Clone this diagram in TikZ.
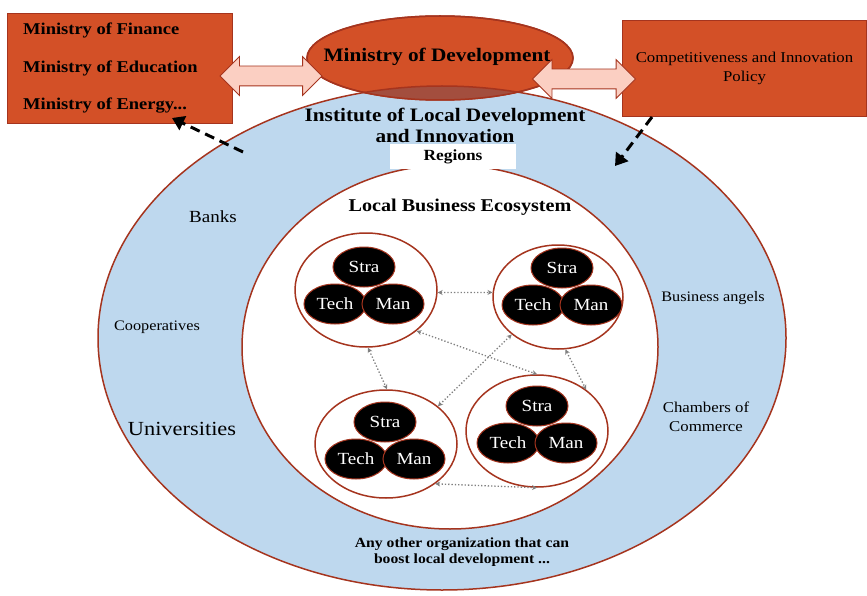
\documentclass[tikz,border=0pt]{standalone}
\usepackage{fontspec}
\setmainfont{Liberation Serif}[FakeStretch=1.12]
\usetikzlibrary{shapes.geometric,shapes.arrows,arrows.meta}
\definecolor{brick}{RGB}{211,80,39}
\definecolor{brickline}{RGB}{165,52,30}
\definecolor{ringblue}{RGB}{190,216,238}
\definecolor{overlap}{RGB}{163,78,62}
\definecolor{pinkarrow}{RGB}{251,207,194}
\newcommand{\tsize}[2]{\fontsize{#1}{#2}\selectfont}
\begin{document}
\begin{tikzpicture}[x=1pt,y=-1pt,
    ring/.style={ellipse,draw=brickline,line width=1.5pt,inner sep=0pt,outer sep=0pt},
    clus/.style={ellipse,draw=brickline,line width=1.5pt,fill=white,inner sep=0pt},
    blob/.style={ellipse,draw=brickline,line width=1pt,fill=black,text=white,minimum width=62pt,minimum height=40pt,inner sep=0pt,font=\tsize{17}{17}},
    box/.style={draw=brickline,fill=brick,line width=1pt,inner sep=0pt,anchor=north west},
    fat/.style={double arrow,draw=brickline,fill=pinkarrow,line width=0.8pt,inner xsep=0pt,inner ysep=9.5pt,minimum width=38pt,double arrow head extend=9.5pt},
    dots/.style={{Stealth[length=5pt,width=5pt]}-{Stealth[length=5pt,width=5pt]},gray,dotted,line width=1.3pt},
    bigdash/.style={-{Triangle[length=12pt,width=15pt]},line width=3pt,dash pattern=on 10pt off 6pt}]
    \useasboundingbox (0,0) rectangle (867,596);
    \node[ring,fill=ringblue,minimum width=688pt,minimum height=504pt] (inst) at (442,338) {};
    \node[ring,fill=white,minimum width=416pt,minimum height=364pt] (eco) at (450,347) {};
    \node[fill=white,minimum width=126pt,minimum height=25pt,inner sep=0pt,font=\bfseries\tsize{15.5}{15.5}] (reg) at (453,157) {Regions};
    \node[ring,fill=brick,minimum width=266pt,minimum height=84pt] (dev) at (440,58) {};
    \begin{scope}
        \clip (dev.center) ellipse [x radius=133pt,y radius=42pt];
        \fill[overlap] (inst.center) ellipse [x radius=344pt,y radius=252pt];
        \draw[brickline,line width=1.5pt] (inst.center) ellipse [x radius=344pt,y radius=252pt];
    \end{scope}
    \draw[brickline,line width=1.5pt] (dev.center) ellipse [x radius=133pt,y radius=42pt];
    \node[font=\bfseries\tsize{19}{19}] (devt) at (437,57) {Ministry of Development};
    \node[font=\bfseries\tsize{19}{21},align=center] (instt) at (445,125) {Institute of Local Development\\and Innovation};
    \node[font=\bfseries\tsize{18}{18}] (ecot) at (460,207) {Local Business Ecosystem};

    \node[box,minimum width=225pt,minimum height=110pt] (mins) at (7,13) {};
    \node[anchor=base west,inner sep=0pt,font=\bfseries\tsize{16.5}{16.5}] (fin) at (23,35) {Ministry of Finance};
    \node[anchor=base west,inner sep=0pt,font=\bfseries\tsize{16.5}{16.5}] (edu) at (23,73) {Ministry of Education};
    \node[anchor=base west,inner sep=0pt,font=\bfseries\tsize{16.5}{16.5}] (ene) at (23,110) {Ministry of Energy...};
    \node[box,minimum width=244pt,minimum height=96pt,align=center,font=\tsize{15}{19}] (cip) at (622,20) {Competitiveness and Innovation\\Policy};

    \node[fat,minimum height=102pt] (a1) at (271,76) {};
    \node[fat,minimum height=103pt] (a2) at (584,79) {};

    \coordinate (from1) at (243,152);
    \coordinate (to1) at (172,118);
    \coordinate (to2) at (615,166);
    \draw[bigdash] (from1) -- (to1);
    \draw[bigdash] ([xshift=30pt]cip.south west) -- (to2);

    \foreach \cn/\cx/\cy/\cw/\chh/\tx/\ty in {tl/366/290/142/114/364/292, tr/558/297/130/104/562/293, bl/386/444/142/108/385/447, br/537/431/142/112/537/431}{
        \node[clus,minimum width=\cw pt,minimum height=\chh pt] (\cn) at (\cx,\cy) {};
        \node[blob] (\cn-s) at (\tx,\ty-25) {Stra};
        \node[blob] (\cn-t) at (\tx-29,\ty+12) {Tech};
        \node[blob] (\cn-m) at (\tx+29,\ty+12) {Man};
    }
    \draw[dots] (tl.-2) -- (tr.176);
    \draw[dots] (tl.-88) -- (bl.89);
    \draw[dots] (tl.-39) -- (br.90);
    \draw[dots] (tr.-141) -- (bl.36);
    \draw[dots] (tr.-82) -- (br.40);
    \draw[dots] (bl.-39) -- (br.-90);

    \node[font=\tsize{17}{17}] (banks) at (213,217) {Banks};
    \node[font=\tsize{14.5}{14.5}] (coop) at (157,327) {Cooperatives};
    \node[font=\tsize{20}{20}] (uni) at (182,429) {Universities};
    \node[font=\tsize{14.5}{14.5}] (angels) at (713,298) {Business angels};
    \node[font=\tsize{15}{19},align=center] (cham) at (706,417) {Chambers of\\Commerce};
    \node[font=\bfseries\tsize{14}{16},align=center] (other) at (462,552) {Any other organization that can\\boost local development ...};
\end{tikzpicture}
\end{document}
